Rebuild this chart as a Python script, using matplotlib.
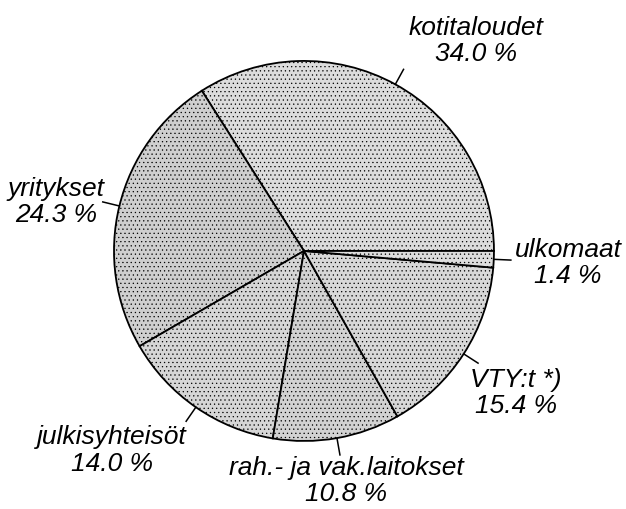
import matplotlib
matplotlib.use("Agg")
import matplotlib.pyplot as plt
import numpy as np

plt.rcParams['font.family'] = ['Liberation Sans', 'DejaVu Sans']
plt.rcParams['hatch.linewidth'] = 0.4

# osuudet (%), vastapäivään alkaen idästä
labels = ["kotitaloudet", "yritykset", "julkisyhteisöt",
          "rah.- ja vak.laitokset", "VTY:t *)", "ulkomaat"]
shares = [34.0, 24.3, 14.0, 10.8, 15.4, 1.4]
pct_text = ["34.0 %", "24.3 %", "14.0 %", "10.8 %", "15.4 %", "1.4 %"]

# label centres (pie radius = 1)
label_pos = [(0.905, 1.11), (-1.305, 0.263), (-1.01, -1.047),
             (0.221, -1.205), (1.116, -0.742), (1.39, -0.058)]
fills = ["#dcdcdc", "#cfcfcf", "#d6d6d6", "#d2d2d2", "#d8d8d8", "#dddddd"]

fig = plt.figure(figsize=(6.26, 5.10), dpi=100)
ax = fig.add_axes([0, 0, 1, 1])

wedges, _ = ax.pie(shares, startangle=0, counterclock=True, colors=fills,
                   wedgeprops=dict(edgecolor="black", linewidth=1.3))
for w in wedges:
    w.set_hatch("....")

# viivat kiilojen keskikulmiin
for w in wedges:
    mid = np.deg2rad((w.theta1 + w.theta2) / 2)
    ax.plot([np.cos(mid) * 1.0, np.cos(mid) * 1.09],
            [np.sin(mid) * 1.0, np.sin(mid) * 1.09],
            color="black", lw=1.1)

for lab, pct, (x, y) in zip(labels, pct_text, label_pos):
    ax.text(x, y, lab + "\n" + pct, ha="center", va="center",
            fontsize=19, style="italic", linespacing=1.15)

ax.set_xlim(-1.6, 1.695)
ax.set_ylim(-1.358, 1.326)
ax.set_aspect("auto")
ax.axis("off")

fig.savefig("out.png", dpi=100)
